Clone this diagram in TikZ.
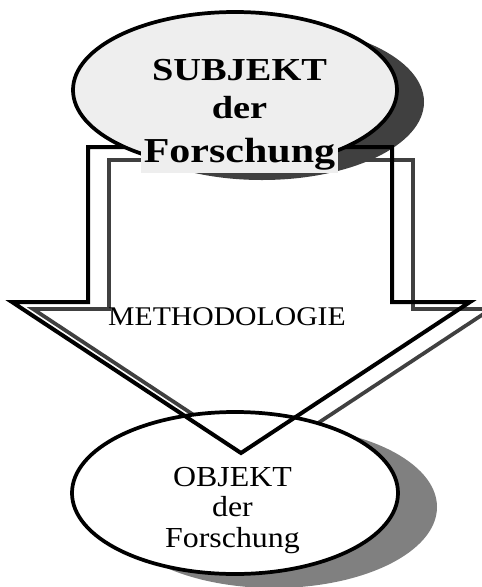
\documentclass[tikz,border=0pt]{standalone}
\usepackage{fontspec}
\setmainfont{Liberation Serif}[FakeStretch=1.1]
\newfontfamily\subjfont{Liberation Serif}[FakeStretch=1.2]
\usepackage{tikz}
\usetikzlibrary{shapes.geometric}
\definecolor{PaleGray}{RGB}{238,238,238}
\definecolor{ShadeDark}{RGB}{64,64,64}
\definecolor{ShadeMid}{RGB}{128,128,128}
\tikzset{
  oval/.style={ellipse,draw=black,line width=2.8pt,inner sep=0pt},
  bigarrow/.style={draw=black,line width=3pt,line join=miter},
  backarrow/.style={draw=ShadeDark,line width=2.8pt,line join=miter},
}
\tikzset{subjlab/.style={fill=PaleGray,inner sep=2.25pt,align=center,font=\subjfont\bfseries\fontsize{24}{28.5}\selectfont}, objlab/.style={inner sep=0pt,align=center,font=\fontsize{21.75}{22.9}\selectfont},methlab/.style={inner sep=0pt,font=\fontsize{20.25}{24}\selectfont}}

\begin{document}
\begin{tikzpicture}[x=0.75pt,y=-0.75pt]
\useasboundingbox (0,0) rectangle (482,587);
% the offset copy of the arrow, behind everything
\draw[backarrow] (109,160) -- (109,309) -- (33,309) -- (262,460) -- (491,309) -- (413,309) -- (413,160) -- cycle;
% shadows of the two ovals
\fill[ShadeDark] (262,102) ellipse [x radius=162,y radius=78];
\fill[ShadeMid] (274,507) ellipse [x radius=163,y radius=81];
\node[oval,fill=white,minimum width=244.5pt,minimum height=121.5pt] (obj) at (235,493) {};
% the big arrow
\draw[bigarrow] (88,147) -- (88,302) -- (12,302) -- (241,453) -- (470,302) -- (392,302) -- (392,147) -- cycle;
\node[oval,fill=PaleGray,minimum width=243pt,minimum height=117pt] (subj) at (235,90) {};
% labels
\node[subjlab,anchor=south] (subjtext) at (239.5,173) {SUBJEKT\\der\\[4.5pt]{\fontsize{26.25}{30}\selectfont Forschung}};
\node[methlab,anchor=base] (meth) at (227,325) {METHODOLOGIE};
\node[objlab] (objtext) at (232.5,510.5) {OBJEKT\\der\\Forschung};
\end{tikzpicture}
\end{document}
